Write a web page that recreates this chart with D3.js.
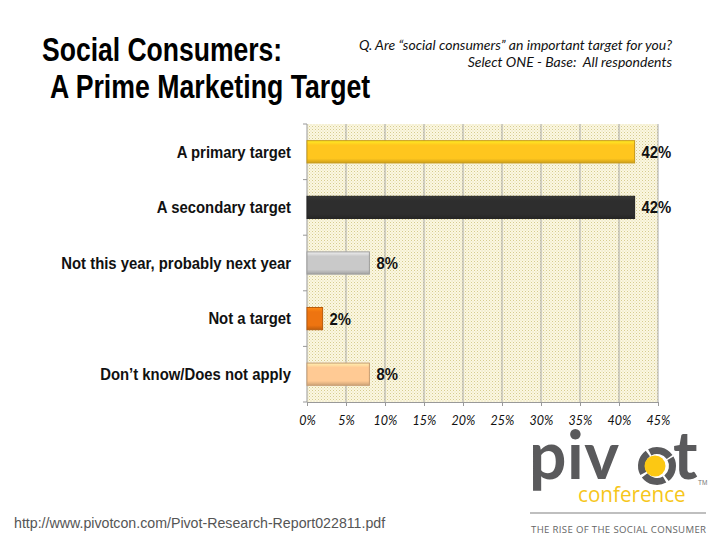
<!DOCTYPE html>
<html><head><meta charset="utf-8">
<script src="https://cdn.jsdelivr.net/npm/d3@7"></script>
<style>body{margin:0;background:#fff}svg{display:block}</style>
</head><body>
<svg id="c" width="720" height="540"></svg>
<script>
const categories = ["A primary target","A secondary target","Not this year, probably next year","Not a target","Don\u2019t know/Does not apply"];
const values = [42, 42, 8, 2, 8];
const valueLabels = ["42%","42%","8%","2%","8%"];
const barColors = ["#ffc61e","#2e2e2e","#c9c9c9","#ee7410","#ffca94"];
const xTicks = [0,5,10,15,20,25,30,35,40,45];

const svg = d3.select("#c");
const sans = "'Liberation Sans',Arial,sans-serif";
const m = {left:307, right:658, top:124, bottom:402};

const x = d3.scaleLinear().domain([0,45]).range([m.left,m.right]);
const y = d3.scaleBand().domain(categories).range([m.top,m.bottom]).paddingInner(0.6).paddingOuter(0.3);

// condensed bold text helper (horizontal squeeze)
function cText(g, tx, ty, str, size, sx, anchor){
  return g.append("text").attr("transform",`translate(${tx},${ty}) scale(${sx},1)`)
    .attr("font-family",sans).attr("font-weight","bold").attr("font-size",size)
    .attr("fill","#111").attr("text-anchor",anchor||"start").text(str);
}

const defs = svg.append("defs");
const pat = defs.append("pattern").attr("id","dots").attr("patternUnits","userSpaceOnUse").attr("width",3).attr("height",3);
pat.append("rect").attr("width",3).attr("height",3).attr("fill","#fbf7e2");
pat.append("rect").attr("x",0).attr("y",0).attr("width",1).attr("height",1).attr("fill","#d6cc8e");
pat.append("rect").attr("x",1.5).attr("y",1.5).attr("width",1).attr("height",1).attr("fill","#e4dcaa");

barColors.forEach((c,i)=>{
  const g = defs.append("linearGradient").attr("id","g"+i).attr("x1",0).attr("y1",0).attr("x2",0).attr("y2",1);
  g.append("stop").attr("offset","0%").attr("stop-color",d3.color(c).brighter(0.5));
  g.append("stop").attr("offset","20%").attr("stop-color",c);
  g.append("stop").attr("offset","80%").attr("stop-color",c);
  g.append("stop").attr("offset","100%").attr("stop-color",d3.color(c).darker(0.6));
});

// plot background
svg.append("rect").attr("x",m.left).attr("y",m.top).attr("width",m.right-m.left).attr("height",m.bottom-m.top).attr("fill","url(#dots)");

// gridlines
svg.append("g").selectAll("line").data(xTicks.slice(1)).join("line")
  .attr("x1",d=>x(d)).attr("x2",d=>x(d)).attr("y1",m.top).attr("y2",m.bottom)
  .attr("stroke","#a8a8a8").attr("stroke-width",1);

// bottom axis
const xAxis = svg.append("g").attr("transform",`translate(0,${m.bottom})`)
  .call(d3.axisBottom(x).tickValues(xTicks).tickFormat(d=>d+"%").tickSize(4).tickPadding(10));
xAxis.select(".domain").attr("stroke","#999");
xAxis.selectAll(".tick line").attr("stroke","#999");
xAxis.selectAll("text").attr("font-family","Lato,'Open Sans',sans-serif").attr("font-style","italic").attr("font-size",12.5).attr("fill","#111");

// left axis line + ticks at band boundaries
const step = (m.bottom-m.top)/categories.length;
svg.append("line").attr("x1",m.left).attr("x2",m.left).attr("y1",m.top).attr("y2",m.bottom).attr("stroke","#999");
svg.append("g").selectAll("line").data(d3.range(categories.length+1)).join("line")
  .attr("x1",m.left-4).attr("x2",m.left).attr("y1",d=>m.top+d*step).attr("y2",d=>m.top+d*step).attr("stroke","#999");

// bars
svg.append("g").selectAll("rect").data(values).join("rect")
  .attr("x",x(0)).attr("y",(d,i)=>y(categories[i]))
  .attr("width",d=>x(d)-x(0)).attr("height",y.bandwidth())
  .attr("fill",(d,i)=>`url(#g${i})`)
  .attr("stroke",(d,i)=>d3.color(barColors[i]).darker(0.7)).attr("stroke-width",1);

// category labels
const catG = svg.append("g");
categories.forEach(c=>{
  cText(catG, 291, y(c)+y.bandwidth()/2+5.8, c, 16, 0.93, "end");
});

// value labels
const valG = svg.append("g");
values.forEach((v,i)=>{
  cText(valG, x(v)+7, y(categories[i])+y.bandwidth()/2+6, valueLabels[i], 16.5, 0.9, "start");
});

// title
const tG = svg.append("g");
cText(tG, 42, 61, "Social Consumers:", 34, 0.78).attr("fill","#000");
cText(tG, 50, 98, "A Prime Marketing Target", 34, 0.785).attr("fill","#000");

// subtitle
const sub = svg.append("g").attr("font-family","Lato,'Open Sans',sans-serif").attr("font-style","italic").attr("font-size",14).attr("fill","#111").attr("text-anchor","end");
sub.append("text").attr("x",672).attr("y",50).text("Q. Are \u201csocial consumers\u201d an important target for you?");
sub.append("text").attr("x",672).attr("y",67).text("Select ONE - Base:\u00a0 All respondents");

// url
svg.append("text").attr("x",14).attr("y",528).attr("font-family",sans).attr("font-size",14.2).attr("fill","#555").text("http://www.pivotcon.com/Pivot-Research-Report022811.pdf");

// logo
const logo = svg.append("g");
logo.append("text").attr("x",529).attr("y",479).attr("font-family","Lato,'Open Sans',sans-serif").attr("font-weight","bold").attr("font-size",66).attr("fill","#5a5a5c").attr("letter-spacing",0.5).text("piv");
logo.append("text").attr("x",673).attr("y",479).attr("font-family","Lato,'Open Sans',sans-serif").attr("font-weight","bold").attr("font-size",66).attr("fill","#5a5a5c").text("t");
logo.append("circle").attr("cx",657).attr("cy",466).attr("r",15.5).attr("fill","none").attr("stroke","#5a5a5c").attr("stroke-width",7).attr("stroke-dasharray","22 2.4").attr("transform","rotate(-30 657 466)");
logo.append("circle").attr("cx",655).attr("cy",466).attr("r",10.5).attr("fill","#fcc813");
logo.append("text").attr("x",698).attr("y",485).attr("font-family",sans).attr("font-size",6.5).attr("fill","#777").text("TM");
logo.append("text").attr("transform","translate(578,502) scale(0.96,1)").attr("font-family","'Open Sans',Lato,sans-serif").attr("font-size",21.5).attr("fill","#f6c61a").text("conference");
logo.append("line").attr("x1",530).attr("x2",706).attr("y1",513).attr("y2",513).attr("stroke","#aaa").attr("stroke-width",1.5);
logo.append("text").attr("x",531).attr("y",533).attr("font-family","'Open Sans',Lato,sans-serif").attr("font-size",9.6).attr("fill","#666").attr("textLength",175).text("THE RISE OF THE SOCIAL CONSUMER");
</script>
</body></html>
